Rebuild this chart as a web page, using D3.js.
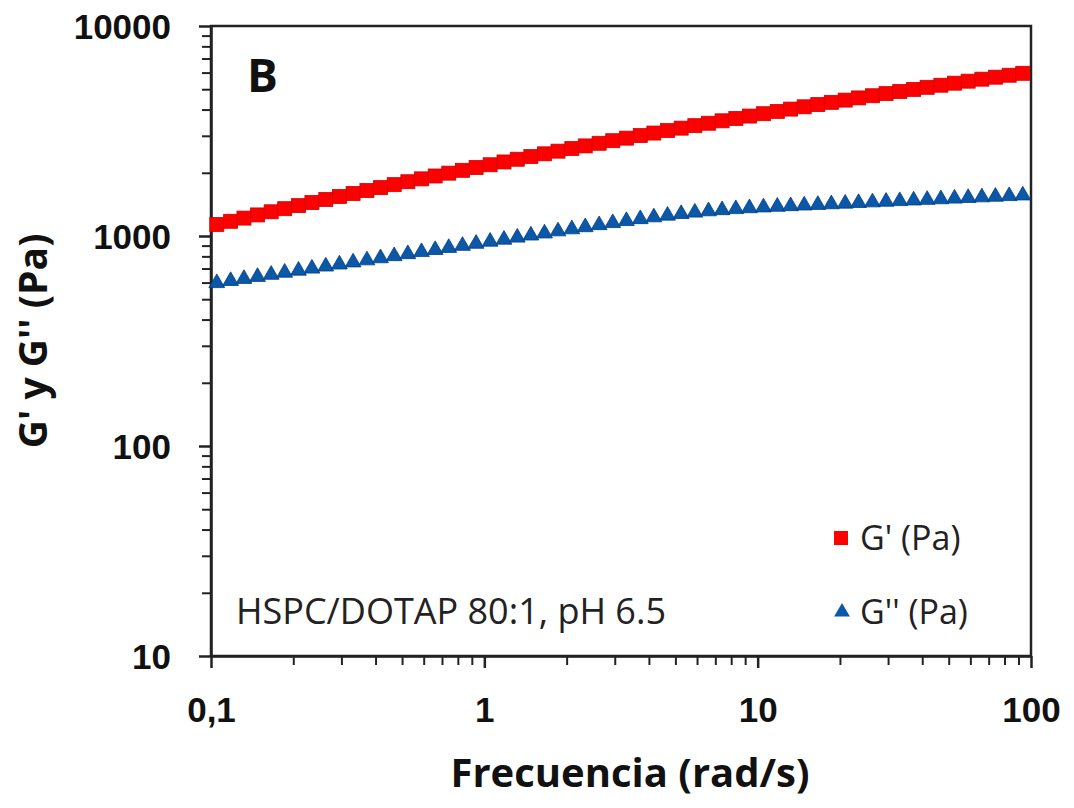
<!DOCTYPE html>
<html>
<head>
<meta charset="utf-8">
<script src="https://cdnjs.cloudflare.com/ajax/libs/d3/7.8.5/d3.min.js"></script>
<style>
    body { margin: 0; background: #ffffff; }
    svg { display: block; font-family: "Open Sans", "Noto Sans", sans-serif; }
    .axis text { font-weight: 700; font-size: 35px; fill: #111; }
    .axis path, .axis line { stroke: #222; }
</style>
</head>
<body>
<div id="chart"></div>
<script>
//frequency sweep (rad/s)
var frequencies = [0.105, 0.118, 0.132, 0.148, 0.166, 0.186, 0.209, 0.234, 0.263, 0.295,
                   0.331, 0.372, 0.417, 0.468, 0.525, 0.589, 0.661, 0.741, 0.832, 0.933,
                   1.05, 1.18, 1.32, 1.48, 1.66, 1.86, 2.09, 2.34, 2.63, 2.95,
                   3.31, 3.72, 4.17, 4.68, 5.25, 5.89, 6.61, 7.41, 8.32, 9.33,
                   10.5, 11.8, 13.2, 14.8, 16.6, 18.6, 20.9, 23.4, 26.3, 29.5,
                   33.1, 37.2, 41.7, 46.8, 52.5, 58.9, 66.1, 74.1, 83.2, 93.3];

//G' (Pa)
var storageModulus = [1135, 1175, 1217, 1260, 1304, 1349, 1395, 1443, 1492, 1542,
                      1594, 1646, 1700, 1756, 1813, 1871, 1931, 1992, 2055, 2119,
                      2184, 2252, 2320, 2390, 2462, 2535, 2609, 2685, 2764, 2843,
                      2924, 3007, 3092, 3177, 3263, 3352, 3443, 3536, 3630, 3725,
                      3822, 3921, 4021, 4123, 4226, 4330, 4437, 4545, 4655, 4765,
                      4877, 4991, 5106, 5224, 5342, 5461, 5582, 5705, 5828, 5953];

//G'' (Pa)
var lossModulus = [597, 611, 625, 639, 654, 669, 684, 700, 716, 732,
                   749, 766, 784, 802, 820, 839, 858, 878, 898, 919,
                   940, 961, 983, 1006, 1029, 1053, 1077, 1102, 1127, 1153,
                   1179, 1204, 1228, 1251, 1273, 1293, 1312, 1328, 1344, 1357,
                   1369, 1379, 1388, 1398, 1407, 1417, 1427, 1437, 1447, 1457,
                   1467, 1477, 1487, 1497, 1508, 1518, 1529, 1539, 1550, 1561];

var xTickValues = [0.1, 1, 10, 100];
var xTickLabels = ["0,1", "1", "10", "100"];
var yTickValues = [10, 100, 1000, 10000];
var yTickLabels = ["10", "100", "1000", "10000"];

var seriesNames = ["G' (Pa)", "G'' (Pa)"];
var panelLetter = "B";
var sampleNote = "HSPC/DOTAP 80:1, pH 6.5";
var xTitle = "Frecuencia (rad/s)";
var yTitle = "G' y G'' (Pa)";

(function () {
    var margin = {top: 26, right: 43, bottom: 152, left: 211},
        fullWidth = 1074, fullHeight = 808,
        width = fullWidth - margin.left - margin.right,
        height = fullHeight - margin.top - margin.bottom;

    var svg = d3.select("#chart").append("svg")
        .attr("width", fullWidth)
        .attr("height", fullHeight);

    var g = svg.append("g")
        .attr("transform", "translate(" + margin.left + "," + margin.top + ")");

    var x = d3.scaleLog().domain([0.1, 100]).range([0, width]);
    var y = d3.scaleLog().domain([10, 10000]).range([height, 0]);

    //minor ticks 2..9 in every decade
    function minorTicks(lo, hi) {
        var out = [];
        for (var p = lo; p < hi; p *= 10) {
            for (var m = 2; m <= 9; m++) out.push(+(p * m).toPrecision(3));
        }
        return out;
    }

    //frame (top and right)
    g.append("rect")
        .attr("width", width)
        .attr("height", height)
        .attr("fill", "none")
        .attr("stroke", "#222")
        .attr("stroke-width", 2.5);

    //minor ticks first
    g.append("g")
        .attr("class", "axis minor")
        .attr("transform", "translate(0," + height + ")")
        .call(d3.axisBottom(x).tickValues(minorTicks(0.1, 100)).tickSize(9).tickSizeOuter(0).tickFormat(""))
        .selectAll("line").attr("stroke-width", 2);

    g.append("g")
        .attr("class", "axis minor")
        .call(d3.axisLeft(y).tickValues(minorTicks(10, 10000)).tickSize(9).tickSizeOuter(0).tickFormat(""))
        .selectAll("line").attr("stroke-width", 2);

    //major ticks + labels
    var xAxis = g.append("g")
        .attr("class", "axis x")
        .attr("transform", "translate(0," + height + ")")
        .call(d3.axisBottom(x).tickValues(xTickValues).tickSize(12).tickSizeOuter(0)
            .tickFormat(function (d, i) { return xTickLabels[i]; }));
    xAxis.selectAll("line").attr("stroke-width", 2.5);
    xAxis.select(".domain").attr("stroke-width", 2.5);
    xAxis.selectAll("text").attr("y", 66).attr("dy", 0);

    var yAxis = g.append("g")
        .attr("class", "axis y")
        .call(d3.axisLeft(y).tickValues(yTickValues).tickSize(12).tickSizeOuter(0).tickPadding(28)
            .tickFormat(function (d, i) { return yTickLabels[i]; }));
    yAxis.selectAll("line").attr("stroke-width", 2.5);
    yAxis.select(".domain").attr("stroke-width", 2.5);
    yAxis.selectAll("text").attr("dy", "0.36em");

    //G' squares
    var sq = 14;
    g.append("g").selectAll("rect")
        .data(frequencies)
        .enter().append("rect")
        .attr("x", function (d) { return x(d) - sq / 2; })
        .attr("y", function (d, i) { return y(storageModulus[i]) - sq / 2; })
        .attr("width", sq)
        .attr("height", sq)
        .attr("fill", "#ff0000")
        .attr("stroke", "#d40000")
        .attr("stroke-width", 0.8);

    //G'' triangles
    var tri = d3.symbol().type(d3.symbolTriangle).size(108);
    g.append("g").selectAll("path")
        .data(frequencies)
        .enter().append("path")
        .attr("d", tri)
        .attr("transform", function (d, i) { return "translate(" + x(d) + "," + y(lossModulus[i]) + ")"; })
        .attr("fill", "#0b57a8")
        .attr("stroke", "#003f86")
        .attr("stroke-width", 0.8);

    //panel letter
    g.append("text")
        .attr("x", 36)
        .attr("y", 66)
        .style("font-size", "46px")
        .style("font-weight", 700)
        .attr("fill", "#111")
        .text(panelLetter);

    //sample note
    g.append("text")
        .attr("x", 25)
        .attr("y", 598)
        .style("font-size", "36px")
        .attr("fill", "#222")
        .text(sampleNote);

    //legend
    var legend = g.append("g").attr("transform", "translate(630,512)");
    legend.append("rect")
        .attr("x", -7).attr("y", -7)
        .attr("width", 14).attr("height", 14)
        .attr("fill", "#ff0000");
    legend.append("path")
        .attr("d", tri)
        .attr("transform", "translate(1,74)")
        .attr("fill", "#0b57a8");
    legend.selectAll("text")
        .data(seriesNames)
        .enter().append("text")
        .attr("x", 19)
        .attr("y", function (d, i) { return 12 + i * 74; })
        .style("font-size", "34px")
        .attr("fill", "#222")
        .text(function (d) { return d; });

    //axis titles
    svg.append("text")
        .attr("x", margin.left + width / 2 + 9)
        .attr("y", 787)
        .attr("text-anchor", "middle")
        .style("font-size", "40px")
        .style("font-weight", 700)
        .attr("fill", "#111")
        .text(xTitle);

    svg.append("text")
        .attr("transform", "translate(47," + (margin.top + height / 2) + ") rotate(-90)")
        .attr("text-anchor", "middle")
        .style("font-size", "39px")
        .style("font-weight", 700)
        .attr("fill", "#111")
        .text(yTitle);
})();
</script>
</body>
</html>
